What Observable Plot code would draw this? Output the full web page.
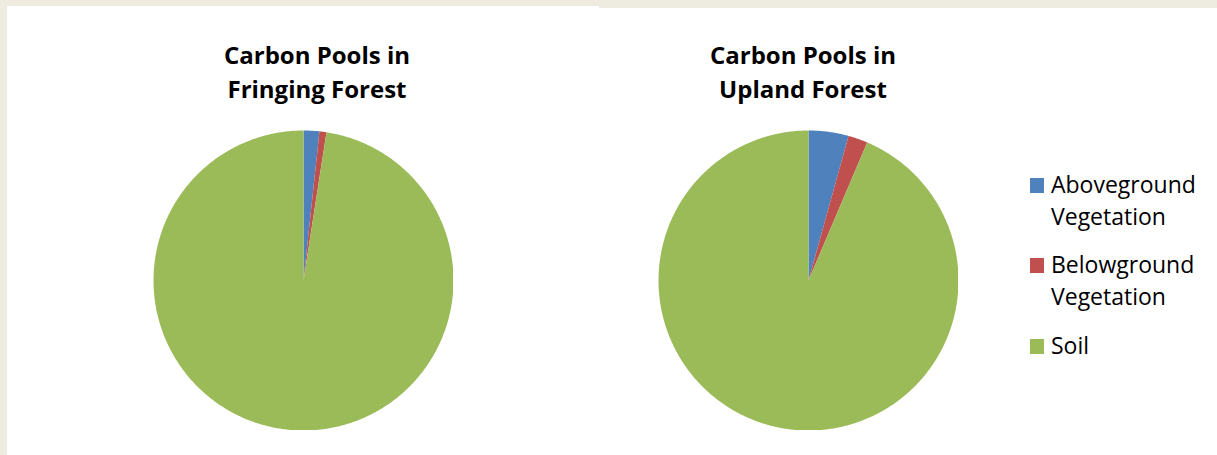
<!DOCTYPE html>
<html>
<head>
<meta charset="utf-8">
<script src="https://cdn.jsdelivr.net/npm/d3@7"></script>
<script src="https://cdn.jsdelivr.net/npm/@observablehq/plot@0.6"></script>
<style>
  html, body { margin: 0; padding: 0; }
  body { width: 1217px; height: 455px; background: #eeebe1; position: relative; overflow: hidden; font-family: "Open Sans", sans-serif; }
  .panel { position: absolute; background: #fff; }
  .title { position: absolute; text-align: center; font-weight: bold; font-size: 24px; line-height: 34px; color: #000; white-space: nowrap; }
  .pie { position: absolute; }
  .legend { position: absolute; left: 1030px; top: 168px; }
  .item { position: absolute; left: 0; white-space: nowrap; font-size: 23px; line-height: 32px; color: #000; }
  .sw { position: absolute; left: 0; width: 14px; height: 15px; }
  .lab { position: absolute; left: 21px; }
</style>
</head>
<body>
<div class="panel" style="left:7px;top:6px;width:592px;height:449px"></div>
<div class="panel" style="left:599px;top:8px;width:618px;height:447px"></div>
<div id="root"></div>
<script>
const categories = ["Aboveground Vegetation", "Belowground Vegetation", "Soil"];
const legendLines = [["Aboveground", "Vegetation"], ["Belowground", "Vegetation"], ["Soil"]];
const colors = ["#4f81bd", "#c0504d", "#9bbb59"];
const fringingValues = [1.7, 0.75, 97.55];
const uplandValues = [4.3, 2.1, 93.6];
const titleFringing = ["Carbon Pools in", "Fringing Forest"];
const titleUpland = ["Carbon Pools in", "Upland Forest"];

const root = document.getElementById("root");

function slicePolygons(values) {
  const arcs = d3.pie().sort(null).value(d => d)(values);
  const rows = [];
  arcs.forEach((a, i) => {
    const cat = categories[i];
    rows.push({cat, x: 0, y: 0});
    const steps = Math.max(2, Math.ceil((a.endAngle - a.startAngle) / (Math.PI / 360)));
    for (let k = 0; k <= steps; k++) {
      const t = a.startAngle + (a.endAngle - a.startAngle) * k / steps;
      rows.push({cat, x: Math.sin(t), y: Math.cos(t)});
    }
    rows.push({cat, x: 0, y: 0});
  });
  return rows;
}

function pie(values, left, top, size) {
  const chart = Plot.plot({
    width: size, height: size,
    margin: 0,
    x: {domain: [-1, 1], axis: null},
    y: {domain: [-1, 1], axis: null},
    color: {domain: categories, range: colors},
    marks: [
      Plot.line(slicePolygons(values), {x: "x", y: "y", z: "cat", fill: "cat", stroke: null})
    ]
  });
  chart.classList.add("pie");
  chart.style.left = left + "px";
  chart.style.top = top + "px";
  chart.style.background = "transparent";
  root.appendChild(chart);
}

function title(lines, cx, top) {
  const d = document.createElement("div");
  d.className = "title";
  d.style.left = (cx - 150) + "px";
  d.style.width = "300px";
  d.style.top = top + "px";
  d.innerHTML = lines.join("<br>");
  root.appendChild(d);
}

pie(fringingValues, 153, 130, 300);
pie(uplandValues, 658, 130, 300);
title(titleFringing, 317, 38);
title(titleUpland, 803, 38);

const legend = document.createElement("div");
legend.className = "legend";
const tops = [0, 80, 161];
categories.forEach((c, i) => {
  const it = document.createElement("div");
  it.className = "item";
  it.style.top = tops[i] + "px";
  const sw = document.createElement("div");
  sw.className = "sw";
  sw.style.background = colors[i];
  sw.style.top = "10px";
  const lab = document.createElement("div");
  lab.className = "lab";
  lab.innerHTML = legendLines[i].join("<br>");
  it.appendChild(sw);
  it.appendChild(lab);
  legend.appendChild(it);
});
root.appendChild(legend);
</script>
</body>
</html>
